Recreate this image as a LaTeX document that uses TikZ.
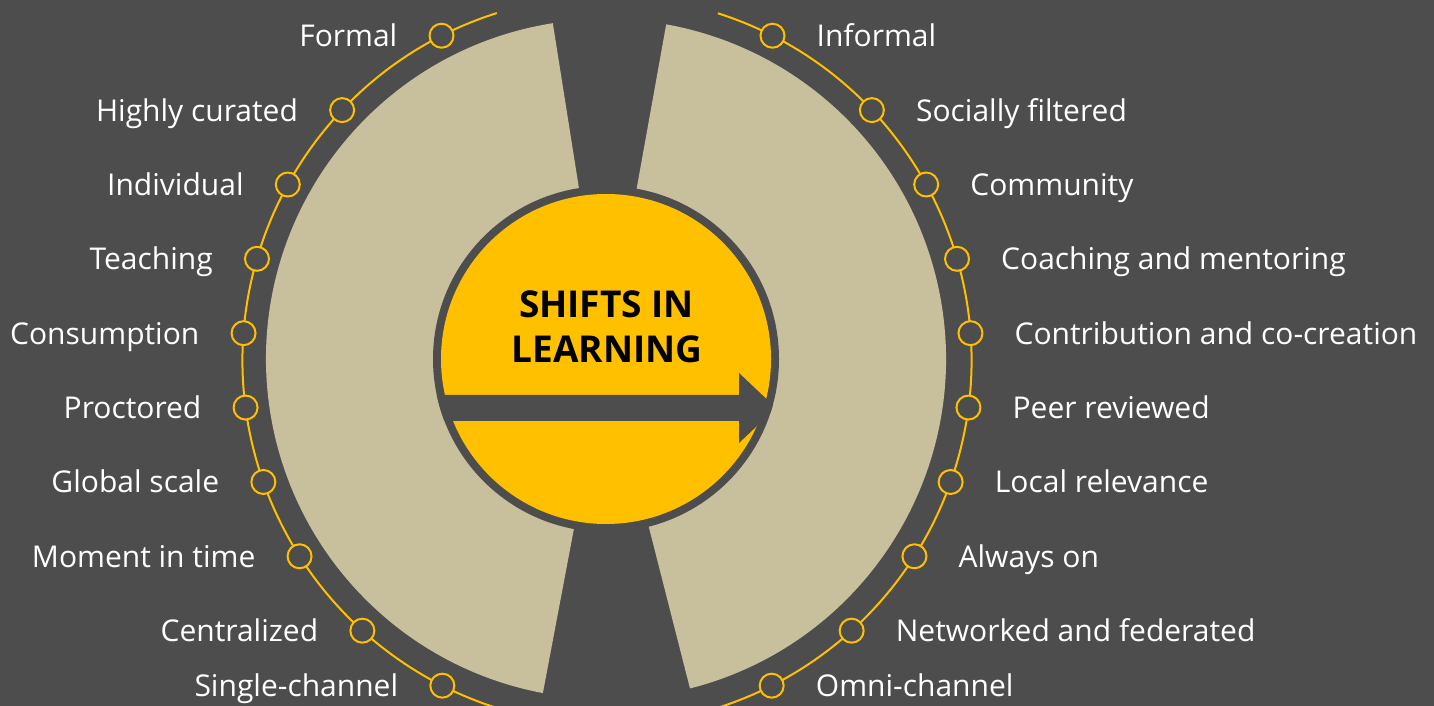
\documentclass[tikz,border=0pt]{standalone}
\usepackage{fontspec}
\setmainfont{Open Sans}
\usetikzlibrary{calc}
\definecolor{bg}{HTML}{4D4D4D}
\definecolor{tanc}{HTML}{C8BF9D}
\definecolor{gold}{HTML}{FFC000}
\begin{document}
\begin{tikzpicture}[x=1pt,y=1pt,
  dot/.style={circle,draw=gold,fill=bg,line width=2pt,minimum size=24pt,inner sep=0pt},
  lbl/.style={text=white,font=\fontsize{30}{36}\selectfont,inner sep=0pt},
  ringarc/.style={draw=gold,line width=2pt},
  ttl/.style={font=\fontsize{37}{44}\selectfont\bfseries,text=black,inner sep=0pt}]
\useasboundingbox (0,0) rectangle (1434,706);
\fill[bg] (0,0) rectangle (1434,706);
\coordinate (C) at (606,347);
\coordinate (R) at (607,345.5);
\begin{scope}
\clip (0,0) rectangle (1434,706);
% tan sectors
\fill[tanc] (C) -- ++(99:340) arc[start angle=99,end angle=259.3,radius=340] -- cycle;
\fill[tanc] (C) -- ++(-75.7:340) arc[start angle=-75.7,end angle=79.8,radius=340] -- cycle;
% yellow arcs
\draw[ringarc] ($(R)+(107.6:364.5)$) arc[start angle=107.6,end angle=262,radius=364.5];
\draw[ringarc] ($(R)+(72.3:364.5)$) arc[start angle=72.3,end angle=-82,radius=364.5];
\end{scope}
% central disc
\fill[bg] (C) circle[radius=173];
\fill[gold] (C) circle[radius=165];
\begin{scope}
\clip (C) circle[radius=173];
\fill[bg] (420,311) -- (739,311) -- (739,333) -- (776,298) -- (739,263) -- (739,285) -- (420,285) -- cycle;
\end{scope}
\node[ttl,anchor=base] (t1) at (606.5,388) {SHIFTS IN};
\node[ttl,anchor=base] (t2) at (607,343) {LEARNING};
% left items
\foreach \a/\t [count=\i] in {117.0/Formal,136.61/Highly curated,151.13/Individual,163.8/Teaching,175.7/Consumption,187.42/Proctored,199.47/Global scale,212.49/Moment in time,227.84/Centralized,243.14/Single-channel}{
  \node[dot] (l\i) at ($(R)+(\a:364.5)$) {};
  \node[lbl,anchor=base east] (tl\i) at ($(l\i)+(-44,-11)$) {\t};
}
% right items
\foreach \a/\t [count=\i] in {63.0/Informal,43.39/Socially filtered,28.87/Community,16.2/Coaching and mentoring,4.3/Contribution and co-creation,-7.42/Peer reviewed,-19.47/Local relevance,-32.49/Always on,-47.84/Networked and federated,-63.14/Omni-channel}{
  \node[dot] (r\i) at ($(R)+(\a:364.5)$) {};
  \node[lbl,anchor=base west] (tr\i) at ($(r\i)+(44,-11)$) {\t};
}
\end{tikzpicture}
\end{document}
